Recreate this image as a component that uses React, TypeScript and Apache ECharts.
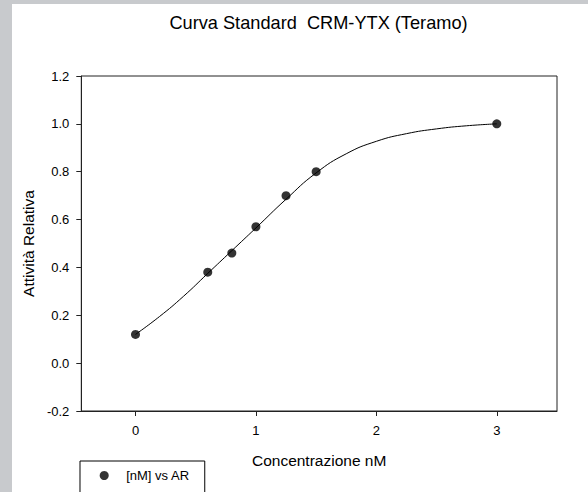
import React, { useEffect, useRef } from "react";
import * as echarts from "echarts";

const titleText = "Curva Standard  CRM-YTX (Teramo)";
const xName = "Concentrazione nM";
const yName = "Attività Relativa";
const seriesName = "[nM] vs AR";

// measured points
const xData = [0, 0.6, 0.8, 1.0, 1.25, 1.5, 3.0];
const yData = [0.12, 0.38, 0.46, 0.57, 0.7, 0.8, 1.0];

// fitted curve
const curveX = [0, 0.2, 0.4, 0.6, 0.8, 1.0, 1.25, 1.5, 1.75, 2.0, 2.25, 2.5, 2.75, 3.0];
const curveY = [0.12, 0.195, 0.28, 0.375, 0.47, 0.565, 0.685, 0.795, 0.875, 0.927, 0.959, 0.979, 0.992, 1.0];

const xTicks = [0, 1, 2, 3];
const xMin = -0.45;
const xMax = 3.5;
const yMin = -0.2;
const yMax = 1.2;
const yStep = 0.2;

const FONT = "'Liberation Sans', Arial, sans-serif";

export default function App() {
  const ref = useRef<HTMLDivElement>(null);

  useEffect(() => {
    if (!ref.current) return;
    const chart = echarts.init(ref.current, undefined, { renderer: "svg" });
    const option: any = {
      animation: false,
      backgroundColor: "#ffffff",
      textStyle: { fontFamily: FONT },
      title: {
        text: titleText,
        left: 306.5,
        top: 10,
        padding: 0,
        textAlign: "center",
        textStyle: { fontFamily: FONT, fontSize: 18.2, fontWeight: "normal", color: "#000" },
      },
      grid: {
        left: 69,
        top: 72,
        width: 476,
        height: 335,
        show: true,
        borderColor: "#222",
        borderWidth: 1,
        backgroundColor: "transparent",
      },
      legend: {
        data: [seriesName],
        left: 68,
        top: 457,
        orient: "horizontal",
        icon: "circle",
        itemWidth: 34,
        itemHeight: 9,
        selectedMode: false,
        padding: [8, 15, 20, 19.7],
        borderColor: "#000",
        borderWidth: 1,
        backgroundColor: "#fff",
        textStyle: { fontFamily: FONT, fontSize: 13, color: "#000" },
      },
      xAxis: {
        type: "value",
        min: xMin,
        max: xMax,
        name: xName,
        nameLocation: "middle",
        nameGap: 41,
        nameTextStyle: { fontFamily: FONT, fontSize: 15.5, color: "#000" },
        axisLine: { show: true, onZero: false, lineStyle: { color: "#222", width: 1 } },
        axisTick: { show: true, length: 5, customValues: xTicks, lineStyle: { color: "#222" } },
        axisLabel: {
          customValues: xTicks,
          margin: 13,
          fontFamily: FONT,
          fontSize: 13,
          color: "#000",
        },
        splitLine: { show: false },
      },
      yAxis: {
        type: "value",
        min: yMin,
        max: yMax,
        interval: yStep,
        name: yName,
        nameLocation: "middle",
        nameGap: 42,
        nameTextStyle: { fontFamily: FONT, fontSize: 15.5, color: "#000" },
        axisLine: { show: true, onZero: false, lineStyle: { color: "#222", width: 1 } },
        axisTick: { show: true, length: 5, lineStyle: { color: "#222" } },
        axisLabel: {
          margin: 12,
          fontFamily: FONT,
          fontSize: 13,
          color: "#000",
          formatter: (v: number) => v.toFixed(1),
        },
        splitLine: { show: false },
      },
      series: [
        {
          name: "fit",
          type: "line",
          data: curveX.map((x, i) => [x, curveY[i]]),
          smooth: 0.5,
          showSymbol: false,
          symbol: "none",
          lineStyle: { color: "#000", width: 1 },
          itemStyle: { color: "#000" },
          z: 2,
          silent: true,
        },
        {
          name: seriesName,
          type: "scatter",
          data: xData.map((x, i) => [x, yData[i]]),
          symbol: "circle",
          symbolSize: 9,
          itemStyle: { color: "#000" },
          z: 3,
        },
      ],
    };
    chart.setOption(option);
    return () => chart.dispose();
  }, []);

  return (
    <div
      style={{
        position: "fixed",
        left: 0,
        top: 0,
        width: 588,
        height: 492,
        background: "#c8cacd",
        overflow: "hidden",
      }}
    >
      <div
        ref={ref}
        style={{ position: "absolute", left: 12, top: 4, width: 576, height: 488 }}
      />
    </div>
  );
}
